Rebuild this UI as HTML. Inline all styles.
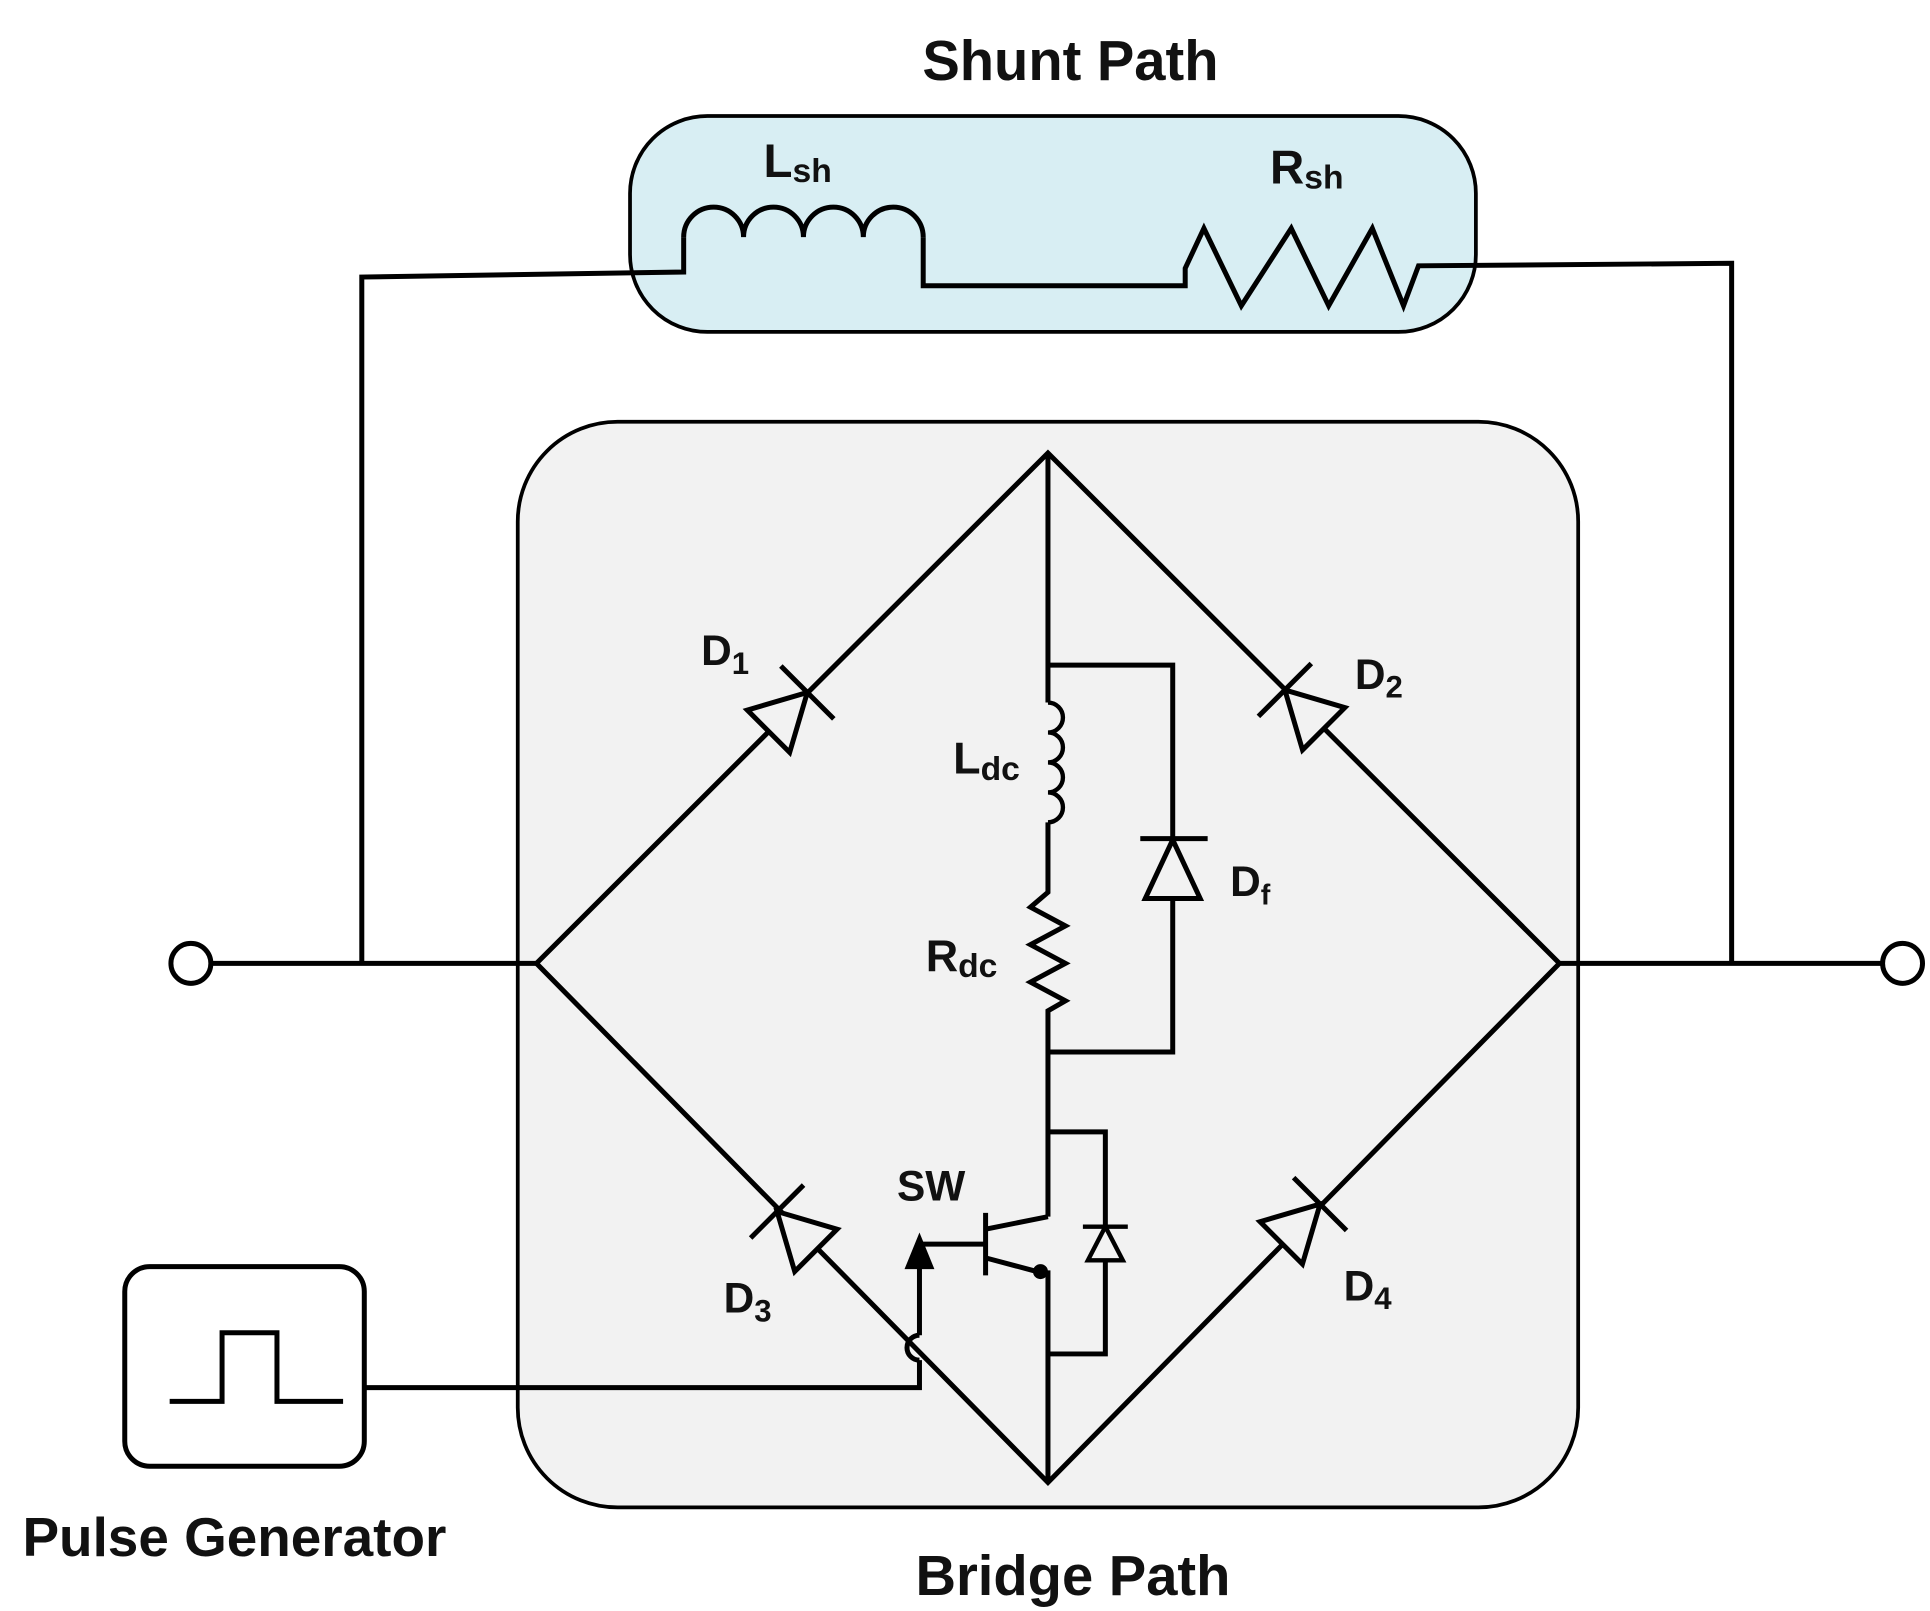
<!DOCTYPE html>
<html><head><meta charset="utf-8"><style>
html,body{margin:0;padding:0;background:#fff;}
svg{display:block;}
text{font-family:"Liberation Sans",sans-serif;font-weight:bold;fill:#111;}
</style></head><body>
<svg width="1930" height="1611" viewBox="0 0 1547 1291" preserveAspectRatio="none" xmlns="http://www.w3.org/2000/svg">
<defs>
<g id="diode">
<polygon points="0,-24 0,24 44,0" fill="#f2f2f2" stroke="#000" stroke-width="4" stroke-linejoin="miter"/>
<line x1="44" y1="-30" x2="44" y2="30" stroke="#000" stroke-width="4"/>
</g>
</defs>
<g fill="none" stroke="#000" stroke-width="4" stroke-linejoin="miter">
<rect x="505" y="93" width="678" height="173" rx="62" fill="#d8eef3" stroke-width="3"/>
<rect x="415" y="338" width="850" height="870" rx="80" fill="#f2f2f2" stroke-width="3"/>
<polyline points="290,772 290,222 548,218 548,190"/>
<path d="M548,190 a24,24 0 0 1 48,0 a24,24 0 0 1 48,0 a24,24 0 0 1 48,0 a24,24 0 0 1 48,0"/>
<polyline points="740,190 740,229 950,229 950,215 965,183 995,245 1035,183 1065,245 1100,183 1125,245 1137,213 1388,211 1388,772"/>
<line x1="170" y1="772" x2="430" y2="772"/>
<line x1="1250" y1="772" x2="1508" y2="772"/>
<circle cx="153" cy="772" r="16" fill="#fff"/>
<circle cx="1525" cy="772" r="16" fill="#fff"/>
<polygon points="430,772 840,363 1250,772 840,1188"/>
<polyline points="840,363 840,563"/>
<path d="M840,563 a12,12 0 0 1 0,24 a12,12 0 0 1 0,24 a12,12 0 0 1 0,24 a12,12 0 0 1 0,24" stroke-width="3.5"/>
<polyline points="840,659 840,715 826,727 854,742 826,757 854,772 826,787 854,802 840,810 840,975"/>
<polyline points="840,533 940,533 940,843 840,843"/>
<polygon points="918,720 962,720 940,673" fill="#f2f2f2"/>
<line x1="914" y1="672" x2="968" y2="672"/>
<polyline points="840,907 886,907 886,1085 840,1085"/>
<polygon points="872,1010 900,1010 886,983" fill="#f2f2f2" stroke-width="3.5"/>
<line x1="868" y1="983" x2="904" y2="983" stroke-width="3.5"/>
<line x1="790" y1="972" x2="790" y2="1022"/>
<line x1="737" y1="997" x2="790" y2="997"/>
<polyline points="790,985 840,975"/>
<polyline points="790,1008 835,1020 840,1020 840,1188"/>
<circle cx="834" cy="1019" r="4" fill="#000"/>
<polyline points="292,1112 737,1112 737,1090"/>
<path d="M737,1090 a10,10 0 0 1 0,-20"/>
<line x1="737" y1="1070" x2="737" y2="1005"/>
<polygon points="728,1015 746,1015 737,993" fill="#000"/>
<rect x="100" y="1015" width="192" height="160" rx="20" fill="#fff"/>
<polyline points="136,1123 178,1123 178,1068 222,1068 222,1123 275,1123"/>
</g>
<use href="#diode" transform="translate(616,586) rotate(-45)"/>
<use href="#diode" transform="translate(1061,584) rotate(-135)"/>
<use href="#diode" transform="translate(654,1002) rotate(-135)"/>
<use href="#diode" transform="translate(1027,996) rotate(-45)"/>
<text x="858" y="64" font-size="45" text-anchor="middle">Shunt Path</text>
<text x="612" y="142" font-size="38">L<tspan font-size="27" dy="4">sh</tspan></text>
<text x="1018" y="147" font-size="38">R<tspan font-size="27" dy="4">sh</tspan></text>
<text x="562" y="533" font-size="34">D<tspan font-size="25" dy="7">1</tspan></text>
<text x="1086" y="552" font-size="34">D<tspan font-size="25" dy="7">2</tspan></text>
<text x="580" y="1052" font-size="34">D<tspan font-size="25" dy="7">3</tspan></text>
<text x="1077" y="1042" font-size="34">D<tspan font-size="25" dy="7">4</tspan></text>
<text x="986" y="718" font-size="34">D<tspan font-size="23" dy="7">f</tspan></text>
<text x="764" y="620" font-size="36">L<tspan font-size="27" dy="5">dc</tspan></text>
<text x="742" y="778" font-size="36">R<tspan font-size="27" dy="5">dc</tspan></text>
<text x="719" y="962" font-size="34">SW</text>
<text x="18" y="1247" font-size="44">Pulse Generator</text>
<text x="860" y="1278" font-size="45" text-anchor="middle">Bridge Path</text>
</svg>
</body></html>
